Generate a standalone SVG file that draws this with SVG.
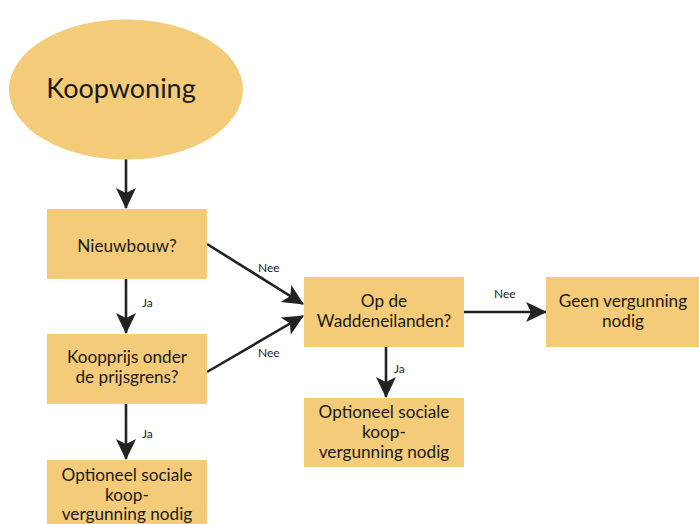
<svg xmlns="http://www.w3.org/2000/svg" width="699" height="524" viewBox="0 0 699 524">
<style>
.n{fill:#F4CB79}
.t{font-family:Lato,"Noto Sans",sans-serif;font-size:17.2px;fill:#1a1a1a;text-anchor:middle}
.big{font-size:27px}
.l{font-family:Lato,"Noto Sans",sans-serif;font-size:12px;fill:#222}
.c{stroke:#222;stroke-width:2.6;fill:none;marker-end:url(#a)}
</style>
<defs>
<marker id="a" markerUnits="userSpaceOnUse" markerWidth="24" markerHeight="24" viewBox="0 0 24 24" refX="22" refY="12" orient="auto">
<path d="M2,2 L23,12 L2,22 L7,12 z" fill="#222"/>
</marker>
</defs>
<rect width="699" height="524" fill="#fff"/>
<g id="connectors">
<line class="c" x1="126" y1="159" x2="126" y2="208"/>
<line class="c" x1="126" y1="279" x2="126" y2="333"/>
<line class="c" x1="207" y1="244" x2="303" y2="304"/>
<line class="c" x1="207" y1="372" x2="303" y2="316"/>
<line class="c" x1="464" y1="312" x2="546" y2="312"/>
<line class="c" x1="386" y1="347" x2="386" y2="397"/>
<line class="c" x1="126" y1="404" x2="126" y2="459"/>
<text class="l" x="142" y="307">Ja</text>
<text class="l" x="258" y="272">Nee</text>
<text class="l" x="258" y="357">Nee</text>
<text class="l" x="494" y="298">Nee</text>
<text class="l" x="394" y="373">Ja</text>
<text class="l" x="142" y="438">Ja</text>
</g>
<g id="koopwoning">
<ellipse class="n" cx="126" cy="89.5" rx="117" ry="70"/>
<text class="t big" x="121" y="98">Koopwoning</text>
</g>
<g id="nieuwbouw">
<rect class="n" x="47" y="209" width="160" height="70"/>
<text class="t" x="127" y="252">Nieuwbouw?</text>
</g>
<g id="koopprijs">
<rect class="n" x="47" y="334" width="160" height="70"/>
<text class="t" x="127" y="363">Koopprijs onder</text>
<text class="t" x="127" y="383">de prijsgrens?</text>
</g>
<g id="wadden">
<rect class="n" x="304" y="277" width="160" height="70"/>
<text class="t" x="384" y="307">Op de</text>
<text class="t" x="384" y="327">Waddeneilanden?</text>
</g>
<g id="geen">
<rect class="n" x="546" y="277" width="153" height="70"/>
<text class="t" x="623" y="307">Geen vergunning</text>
<text class="t" x="623" y="327">nodig</text>
</g>
<g id="optioneel-rechts">
<rect class="n" x="304" y="398" width="160" height="69"/>
<text class="t" x="384" y="418">Optioneel sociale</text>
<text class="t" x="384" y="438">koop-</text>
<text class="t" x="384" y="458">vergunning nodig</text>
</g>
<g id="optioneel-links">
<rect class="n" x="47" y="460" width="160" height="70"/>
<text class="t" x="127" y="481">Optioneel sociale</text>
<text class="t" x="127" y="501">koop-</text>
<text class="t" x="127" y="520">vergunning nodig</text>
</g>
</svg>
